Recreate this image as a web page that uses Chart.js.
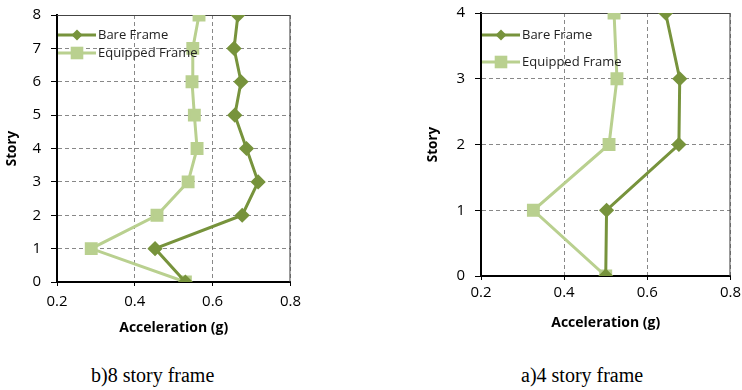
<!DOCTYPE html>
<html>
<head>
<meta charset="utf-8">
<script src="https://cdn.jsdelivr.net/npm/chart.js@4/dist/chart.umd.min.js"></script>
<style>
  body { margin: 0; background: #fff; width: 742px; height: 390px; position: relative; overflow: hidden; }
  .box { position: absolute; }
  .cap { position: absolute; font-family: "Liberation Serif", serif; font-size: 20px; color: #000; white-space: nowrap; }
</style>
</head>
<body>
<div class="box" style="left:0px; top:0px; width:308px; height:340px;"><canvas id="chart8"></canvas></div>
<div class="box" style="left:420px; top:0px; width:325px; height:340px;"><canvas id="chart4"></canvas></div>
<div class="cap" style="left:91px; top:364px;">b)8 story frame</div>
<div class="cap" style="left:521px; top:364px;">a)4 story frame</div>
<script>
// 8 story frame
const stories8 = [0, 1, 2, 3, 4, 5, 6, 7, 8];
const bare8 = [0.53, 0.452, 0.676, 0.717, 0.687, 0.657, 0.673, 0.655, 0.665];
const equipped8 = [0.53, 0.288, 0.457, 0.537, 0.56, 0.553, 0.547, 0.549, 0.565];

// 4 story frame
const stories4 = [0, 1, 2, 3, 4];
const bare4 = [0.5, 0.502, 0.676, 0.678, 0.644];
const equipped4 = [0.5, 0.326, 0.508, 0.527, 0.52];

const xTicks = [0.2, 0.4, 0.6, 0.8];
const seriesNames = ["Bare Frame", "Equipped Frame"];

const bareColor = "#77933C";
const equipColor = "#B9D08F";
const fontFam = "'Open Sans', Lato, sans-serif";

function pts(xs, ys) {
    return xs.map((x, i) => ({ x: x, y: ys[i] }));
}

// legend drawn inside the plot, top-left
const innerLegend = {
    id: "innerLegend",
    afterDatasetsDraw(chart, args, opts) {
        const ctx = chart.ctx;
        const a = chart.chartArea;
        ctx.save();
        chart.data.datasets.forEach((ds, i) => {
            const y = a.top + opts.rows[i];
            const x0 = a.left + opts.dx;
            const x1 = x0 + opts.len;
            ctx.strokeStyle = ds.borderColor;
            ctx.lineWidth = ds.borderWidth;
            ctx.beginPath(); ctx.moveTo(x0, y); ctx.lineTo(x1, y); ctx.stroke();
            ctx.fillStyle = ds.pointBackgroundColor;
            const mx = (x0 + x1) / 2;
            const r = ds.pointRadius;
            ctx.beginPath();
            if (ds.pointStyle === "rectRot") {
                ctx.moveTo(mx, y - r); ctx.lineTo(mx + r, y); ctx.lineTo(mx, y + r); ctx.lineTo(mx - r, y);
            } else {
                ctx.rect(mx - r * 0.9, y - r * 0.9, r * 1.8, r * 1.8);
            }
            ctx.fill();
            ctx.fillStyle = "#222";
            ctx.font = "13px " + fontFam;
            ctx.textBaseline = "middle";
            ctx.fillText(ds.label, x1 + 2, y);
        });
        ctx.restore();
    }
};

// thin frame on top and right side
const frame = {
    id: "frame",
    beforeDatasetsDraw(chart) {
        const ctx = chart.ctx;
        const a = chart.chartArea;
        ctx.save();
        ctx.strokeStyle = "#444";
        ctx.lineWidth = 1;
        ctx.beginPath();
        ctx.moveTo(a.left, a.top + 0.5);
        ctx.lineTo(a.right - 0.5, a.top + 0.5);
        ctx.lineTo(a.right - 0.5, a.bottom);
        ctx.stroke();
        ctx.restore();
    }
};

// g: axis sizes / paddings for one panel
function makeChart(id, stories, bare, equip, yMax, g) {
    return new Chart(document.getElementById(id), {
        type: "line",
        data: {
            datasets: [
                {
                    label: seriesNames[0], data: pts(bare, stories),
                    borderColor: bareColor, backgroundColor: bareColor,
                    pointBackgroundColor: bareColor, pointBorderColor: bareColor,
                    borderWidth: 3, pointStyle: "rectRot", pointRadius: 5.5, tension: 0
                },
                {
                    label: seriesNames[1], data: pts(equip, stories),
                    borderColor: equipColor, backgroundColor: equipColor,
                    pointBackgroundColor: equipColor, pointBorderColor: equipColor,
                    borderWidth: 3, pointStyle: "rect", pointRadius: 7, tension: 0
                }
            ]
        },
        options: {
            responsive: true, maintainAspectRatio: false, animation: false,
            layout: { padding: 0 },
            plugins: {
                legend: { display: false }, tooltip: { enabled: false },
                innerLegend: { dx: 1, len: 38, rows: g.rows }
            },
            scales: {
                x: {
                    type: "linear", min: 0.2, max: 0.8,
                    afterBuildTicks: (ax) => { ax.ticks = xTicks.map(v => ({ value: v })); },
                    afterFit: (ax) => { ax.height = g.xH; },
                    ticks: { color: "#000", font: { family: fontFam, size: 15 }, padding: g.xTickPad, callback: v => v.toFixed(1) },
                    grid: { color: "#888", tickColor: "#000", tickLength: 4, tickBorderDash: [] },
                    border: { display: true, color: "#000", width: 2, dash: [4, 3] },
                    title: { display: true, text: "Acceleration (g)", color: "#000", font: { family: fontFam, size: 14, weight: "bold" }, padding: { top: 0, bottom: g.xTitlePad } }
                },
                y: {
                    type: "linear", min: 0, max: yMax,
                    afterFit: (ax) => { ax.width = g.yW; },
                    ticks: { stepSize: 1, color: "#000", font: { family: fontFam, size: 15, lineHeight: g.yLh }, padding: 10 },
                    grid: { color: "#888", tickColor: "#000", tickLength: 6, tickBorderDash: [] },
                    border: { display: true, color: "#000", width: 2, dash: [4, 3] },
                    title: { display: true, text: "Story", color: "#000", font: { family: fontFam, size: 13.5, weight: "bold" }, padding: { top: g.yTitlePad, bottom: 0 } }
                }
            }
        },
        plugins: [frame, innerLegend]
    });
}

makeChart("chart8", stories8, bare8, equipped8, 8,
    { yW: 57, xH: 58, yLh: "10px", xTickPad: 7, xTitlePad: 4, yTitlePad: 4, rows: [20, 38] });
makeChart("chart4", stories4, bare4, equipped4, 4,
    { yW: 61, xH: 64, yLh: "6px", xTickPad: 4, xTitlePad: 9, yTitlePad: 5, rows: [22, 49] });
</script>
</body>
</html>
